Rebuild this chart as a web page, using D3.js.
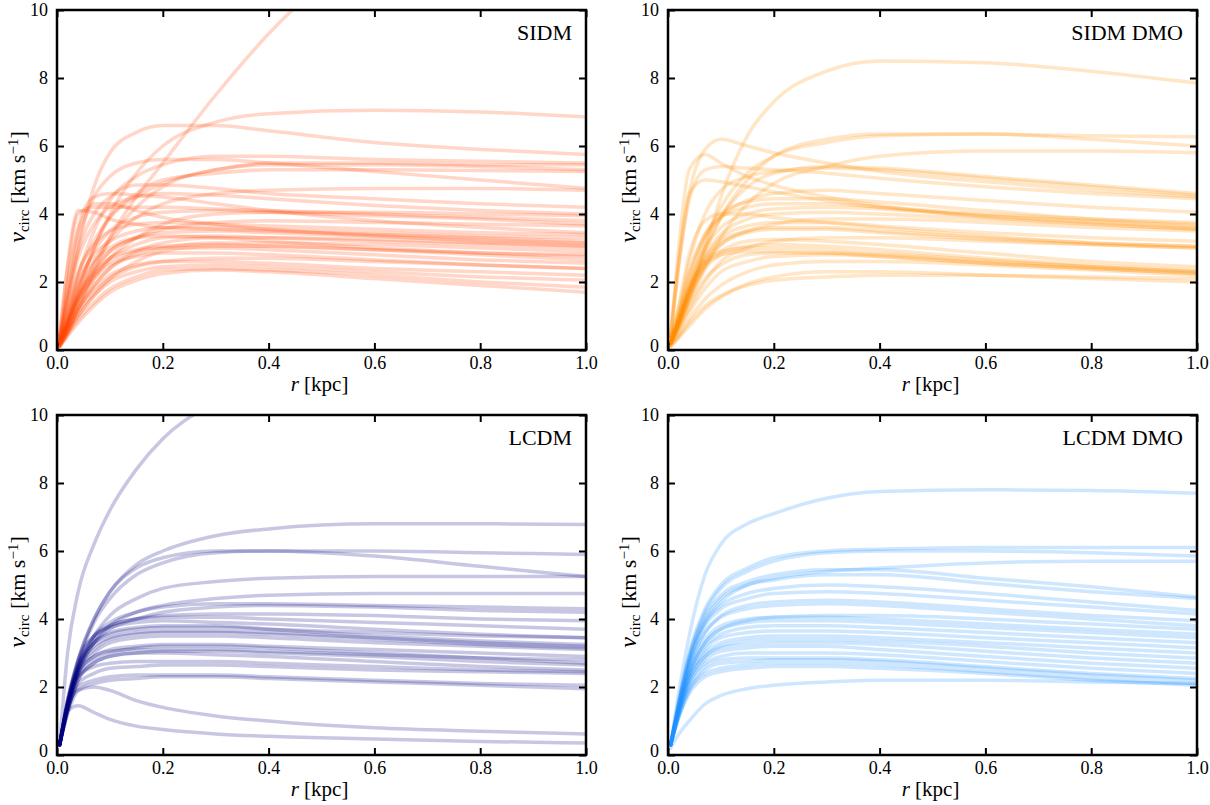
<!DOCTYPE html>
<html>
<head>
<meta charset="utf-8">
<title>vcirc profiles</title>
<style>
  body { margin: 0; background: #fff; }
  svg text { font-family: "Liberation Serif", "DejaVu Serif", serif; fill: #000; }
</style>
</head>
<body>
<svg id="chart" width="1210" height="805"></svg>
<script src="https://cdn.jsdelivr.net/npm/d3@7"></script>
<script>
// radii (kpc) at which every curve is sampled
var rGrid = [0.005, 0.02, 0.04, 0.07, 0.1, 0.15, 0.2, 0.3, 0.4, 0.6, 0.8, 1.0];

var xTicks = [0, 0.2, 0.4, 0.6, 0.8, 1.0];
var yTicks = [0, 2, 4, 6, 8, 10];

var panelTitles = ["SIDM", "SIDM DMO", "LCDM", "LCDM DMO"];
var panelColors = ["#ff4500", "#ff8c00", "#000080", "#1e90ff"];

// v_circ (km/s), one row per halo
var sidmCurves = [
  [0.1, 0.5, 1.2, 2.3, 3.3, 4.5, 5.5, 7.5, 9.3, 12.0, 14.0, 15.5],
  [0.3, 1.5, 3.0, 4.8, 5.8, 6.4, 6.6, 6.6, 6.45, 6.1, 5.9, 5.75],
  [0.2, 0.8, 1.7, 3.0, 4.0, 5.2, 6.0, 6.7, 6.95, 7.05, 7.0, 6.85],
  [0.2, 1.0, 2.2, 3.5, 4.4, 5.1, 5.45, 5.7, 5.7, 5.6, 5.55, 5.5],
  [0.2, 0.8, 1.8, 3.0, 3.9, 4.6, 5.0, 5.2, 5.3, 5.3, 5.28, 5.25],
  [0.3, 1.6, 3.2, 4.5, 5.1, 5.5, 5.6, 5.6, 5.5, 5.25, 5.0, 4.76],
  [0.3, 1.5, 2.9, 4.0, 4.5, 4.85, 4.85, 4.75, 4.6, 4.45, 4.3, 4.2],
  [0.4, 2.5, 4.1, 4.05, 3.85, 3.7, 3.6, 3.55, 3.5, 3.4, 3.3, 3.2],
  [0.4, 2.4, 4.0, 4.2, 4.2, 4.2, 4.2, 4.15, 4.1, 4.0, 3.9, 3.8],
  [0.4, 2.0, 3.6, 4.5, 4.6, 4.55, 4.5, 4.3, 4.1, 3.8, 3.6, 3.45],
  [0.2, 0.7, 1.5, 2.5, 3.2, 3.9, 4.3, 4.6, 4.7, 4.75, 4.75, 4.7],
  [0.3, 1.4, 2.7, 3.7, 4.2, 4.5, 4.6, 4.55, 4.45, 4.25, 4.1, 4.0],
  [0.2, 0.9, 1.9, 2.9, 3.5, 3.9, 4.05, 4.1, 4.05, 3.95, 3.85, 3.7],
  [0.2, 0.8, 1.6, 2.4, 2.9, 3.3, 3.45, 3.5, 3.45, 3.35, 3.25, 3.15],
  [0.2, 0.7, 1.4, 2.2, 2.7, 3.1, 3.3, 3.35, 3.3, 3.2, 3.1, 3.0],
  [0.15, 0.6, 1.2, 1.9, 2.4, 2.9, 3.15, 3.3, 3.3, 3.25, 3.15, 3.05],
  [0.2, 0.9, 1.8, 2.6, 3.0, 3.3, 3.35, 3.3, 3.2, 3.0, 2.85, 2.75],
  [0.15, 0.6, 1.2, 1.8, 2.2, 2.5, 2.6, 2.6, 2.55, 2.4, 2.3, 2.2],
  [0.15, 0.5, 1.0, 1.6, 2.0, 2.3, 2.45, 2.5, 2.45, 2.3, 2.15, 2.05],
  [0.1, 0.45, 0.9, 1.4, 1.8, 2.15, 2.35, 2.4, 2.35, 2.2, 2.0, 1.85],
  [0.1, 0.4, 0.8, 1.3, 1.7, 2.05, 2.25, 2.35, 2.3, 2.1, 1.9, 1.7],
  [0.2, 0.8, 1.5, 2.2, 2.6, 2.9, 3.0, 3.0, 2.95, 2.8, 2.65, 2.55],
  [0.2, 0.7, 1.4, 2.1, 2.5, 2.75, 2.85, 2.85, 2.8, 2.65, 2.5, 2.4],
  [0.2, 1.0, 2.0, 2.8, 3.2, 3.5, 3.6, 3.6, 3.55, 3.45, 3.35, 3.3],
  [0.25, 1.2, 2.3, 3.1, 3.5, 3.7, 3.75, 3.7, 3.65, 3.55, 3.45, 3.4],
  [0.15, 0.6, 1.2, 1.9, 2.4, 2.8, 3.0, 3.15, 3.15, 3.1, 3.0, 2.9],
  [0.15, 0.55, 1.1, 1.7, 2.1, 2.45, 2.6, 2.7, 2.7, 2.6, 2.5, 2.4],
  [0.2, 0.8, 1.6, 2.3, 2.7, 2.95, 3.05, 3.1, 3.05, 2.95, 2.85, 2.8],
  [0.3, 1.8, 3.5, 4.3, 4.3, 4.1, 3.9, 3.7, 3.55, 3.35, 3.2, 3.1],
  [0.15, 0.6, 1.3, 2.1, 2.7, 3.3, 3.7, 4.0, 4.05, 4.05, 4.0, 3.95],
  [0.2, 0.7, 1.5, 2.3, 2.9, 3.3, 3.55, 3.75, 3.8, 3.75, 3.7, 3.65],
  [0.1, 0.5, 1.0, 1.6, 2.1, 2.6, 2.9, 3.05, 3.05, 2.95, 2.8, 2.65],
  [0.2, 1.1, 2.2, 3.2, 3.9, 4.5, 4.9, 5.3, 5.5, 5.5, 5.45, 5.45],
  [0.2, 0.8, 1.6, 2.6, 3.3, 4.2, 4.8, 5.3, 5.45, 5.45, 5.4, 5.3]
];

var sidmDmoCurves = [
  [0.2, 0.7, 1.5, 3.0, 4.5, 6.3, 7.3, 8.2, 8.5, 8.45, 8.2, 7.85],
  [0.4, 2.5, 4.6, 5.9, 6.2, 6.0, 5.8, 5.5, 5.25, 4.95, 4.7, 4.5],
  [0.4, 3.0, 5.3, 5.75, 5.5, 5.1, 4.85, 4.5, 4.25, 3.9, 3.7, 3.55],
  [0.4, 2.4, 4.4, 5.3, 5.4, 5.35, 5.3, 5.2, 5.05, 4.8, 4.6, 4.45],
  [0.4, 2.6, 4.6, 5.0, 4.95, 4.8, 4.65, 4.4, 4.2, 3.95, 3.75, 3.6],
  [0.2, 0.8, 1.7, 2.9, 3.9, 5.0, 5.7, 6.2, 6.35, 6.35, 6.3, 6.27],
  [0.2, 0.7, 1.4, 2.4, 3.3, 4.3, 4.9, 5.4, 5.7, 5.85, 5.85, 5.8],
  [0.2, 0.9, 1.9, 3.2, 4.2, 5.2, 5.7, 6.1, 6.3, 6.35, 6.2, 6.0],
  [0.3, 1.2, 2.6, 4.0, 4.7, 5.1, 5.25, 5.35, 5.3, 5.05, 4.8, 4.55],
  [0.25, 1.0, 2.2, 3.4, 4.0, 4.35, 4.45, 4.45, 4.35, 4.1, 3.85, 3.7],
  [0.2, 0.9, 1.9, 3.0, 3.6, 4.0, 4.15, 4.2, 4.15, 3.95, 3.8, 3.65],
  [0.2, 0.8, 1.7, 2.8, 3.4, 3.85, 4.0, 4.05, 4.0, 3.85, 3.7, 3.55],
  [0.25, 1.1, 2.3, 3.4, 3.9, 4.2, 4.3, 4.3, 4.2, 4.0, 3.85, 3.75],
  [0.2, 0.8, 1.6, 2.6, 3.1, 3.45, 3.55, 3.55, 3.45, 3.25, 3.1, 3.0],
  [0.2, 0.9, 1.8, 2.7, 3.2, 3.5, 3.6, 3.6, 3.5, 3.3, 3.15, 3.05],
  [0.2, 0.8, 1.6, 2.5, 2.9, 3.2, 3.25, 3.2, 3.1, 2.85, 2.6, 2.45],
  [0.2, 0.7, 1.5, 2.4, 2.8, 3.05, 3.1, 3.05, 2.95, 2.7, 2.5, 2.35],
  [0.2, 0.9, 1.8, 2.6, 2.9, 3.0, 3.0, 2.95, 2.85, 2.65, 2.45, 2.3],
  [0.2, 0.8, 1.7, 2.5, 2.8, 2.9, 2.9, 2.85, 2.75, 2.55, 2.4, 2.25],
  [0.15, 0.6, 1.3, 2.1, 2.5, 2.8, 2.85, 2.85, 2.8, 2.6, 2.45, 2.3],
  [0.15, 0.5, 1.1, 1.8, 2.3, 2.6, 2.75, 2.8, 2.75, 2.55, 2.4, 2.25],
  [0.15, 0.4, 0.8, 1.3, 1.6, 1.9, 2.05, 2.15, 2.2, 2.2, 2.15, 2.1],
  [0.1, 0.35, 0.7, 1.2, 1.55, 1.95, 2.15, 2.3, 2.3, 2.2, 2.1, 2.0],
  [0.1, 0.4, 0.9, 1.5, 1.9, 2.3, 2.5, 2.6, 2.6, 2.5, 2.35, 2.2],
  [0.2, 0.8, 1.7, 2.7, 3.3, 3.65, 3.75, 3.75, 3.65, 3.45, 3.3, 3.2],
  [0.3, 1.3, 2.8, 3.8, 4.0, 4.0, 3.9, 3.75, 3.6, 3.35, 3.15, 3.05],
  [0.2, 0.8, 1.8, 3.0, 3.9, 4.8, 5.2, 5.4, 5.35, 5.1, 4.85, 4.6],
  [0.2, 1.0, 2.1, 3.3, 3.9, 4.4, 4.6, 4.7, 4.6, 4.4, 4.2, 4.05],
  [0.2, 0.7, 1.5, 2.5, 3.1, 3.5, 3.7, 3.85, 3.85, 3.75, 3.6, 3.5],
  [0.2, 0.6, 1.2, 2.0, 2.6, 3.0, 3.2, 3.3, 3.3, 3.2, 3.1, 3.0]
];

var lcdmCurves = [
  [0.3, 3.0, 4.8, 6.2, 7.2, 8.4, 9.3, 10.4, 11.2, 12.3, 13.0, 13.5],
  [0.3, 1.6, 2.8, 4.0, 4.8, 5.6, 6.0, 6.45, 6.65, 6.8, 6.8, 6.78],
  [0.3, 1.5, 2.7, 3.9, 4.6, 5.3, 5.65, 5.95, 6.0, 6.0, 5.95, 5.9],
  [0.3, 1.5, 2.8, 4.0, 4.8, 5.5, 5.8, 6.0, 6.0, 5.85, 5.55, 5.25],
  [0.3, 1.4, 2.5, 3.5, 4.1, 4.6, 4.9, 5.1, 5.2, 5.25, 5.25, 5.25],
  [0.3, 1.3, 2.4, 3.3, 3.8, 4.2, 4.4, 4.6, 4.7, 4.75, 4.75, 4.75],
  [0.3, 1.5, 2.6, 3.5, 3.9, 4.2, 4.35, 4.45, 4.45, 4.4, 4.35, 4.3],
  [0.3, 1.4, 2.5, 3.3, 3.7, 4.0, 4.2, 4.35, 4.4, 4.35, 4.25, 4.2],
  [0.3, 1.5, 2.6, 3.4, 3.8, 4.0, 4.1, 4.15, 4.15, 4.1, 4.0, 3.95],
  [0.3, 1.6, 2.7, 3.5, 3.8, 4.0, 4.05, 4.05, 4.0, 3.9, 3.8, 3.7],
  [0.3, 1.6, 2.6, 3.3, 3.55, 3.7, 3.75, 3.75, 3.7, 3.6, 3.5, 3.45],
  [0.3, 1.5, 2.5, 3.2, 3.45, 3.6, 3.65, 3.65, 3.6, 3.45, 3.3, 3.2],
  [0.3, 1.4, 2.4, 3.0, 3.3, 3.45, 3.5, 3.5, 3.45, 3.3, 3.2, 3.1],
  [0.3, 1.5, 2.4, 2.9, 3.1, 3.2, 3.25, 3.25, 3.2, 3.1, 3.0, 2.9],
  [0.3, 1.5, 2.4, 2.9, 3.05, 3.1, 3.1, 3.1, 3.05, 2.95, 2.85, 2.8],
  [0.3, 1.3, 2.2, 2.7, 2.9, 3.0, 3.05, 3.05, 3.0, 2.9, 2.75, 2.65],
  [0.3, 1.4, 2.3, 2.6, 2.7, 2.75, 2.75, 2.75, 2.7, 2.6, 2.5, 2.45],
  [0.3, 1.3, 2.1, 2.4, 2.55, 2.6, 2.65, 2.65, 2.6, 2.5, 2.45, 2.4],
  [0.3, 1.3, 2.0, 2.2, 2.3, 2.35, 2.35, 2.35, 2.3, 2.2, 2.1, 2.05],
  [0.3, 1.2, 1.9, 2.1, 2.2, 2.25, 2.3, 2.3, 2.25, 2.15, 2.05, 1.95],
  [0.3, 1.6, 2.8, 3.5, 3.75, 3.9, 3.95, 3.9, 3.85, 3.7, 3.55, 3.45],
  [0.3, 1.5, 2.6, 3.3, 3.6, 3.75, 3.8, 3.8, 3.7, 3.5, 3.35, 3.25],
  [0.3, 1.4, 2.3, 2.8, 3.0, 3.15, 3.2, 3.2, 3.15, 3.0, 2.85, 2.7],
  [0.3, 1.3, 2.2, 2.7, 2.9, 3.0, 3.0, 2.95, 2.9, 2.75, 2.6, 2.5],
  [0.3, 1.5, 2.5, 3.1, 3.4, 3.55, 3.6, 3.6, 3.55, 3.4, 3.25, 3.15],
  [0.3, 1.4, 1.9, 2.0, 1.9, 1.6, 1.4, 1.15, 1.0, 0.8, 0.7, 0.62],
  [0.3, 1.3, 1.45, 1.25, 1.05, 0.85, 0.75, 0.62, 0.55, 0.47, 0.4, 0.35]
];

var lcdmDmoCurves = [
  [0.3, 1.8, 3.5, 5.3, 6.2, 6.8, 7.1, 7.55, 7.75, 7.8, 7.78, 7.7],
  [0.3, 1.6, 3.0, 4.3, 5.0, 5.5, 5.8, 6.0, 6.05, 6.1, 6.1, 6.1],
  [0.3, 1.5, 2.9, 4.2, 4.9, 5.4, 5.7, 5.95, 6.0, 6.0, 5.95, 5.85],
  [0.3, 1.4, 2.7, 3.9, 4.5, 5.0, 5.2, 5.4, 5.5, 5.65, 5.7, 5.7],
  [0.3, 1.5, 2.9, 4.1, 4.7, 5.1, 5.3, 5.45, 5.45, 5.2, 4.95, 4.65],
  [0.3, 1.5, 2.8, 4.0, 4.6, 5.0, 5.15, 5.3, 5.3, 5.05, 4.8, 4.6],
  [0.3, 1.5, 2.8, 3.9, 4.4, 4.75, 4.9, 5.0, 4.95, 4.75, 4.5, 4.25],
  [0.3, 1.4, 2.7, 3.8, 4.3, 4.6, 4.75, 4.8, 4.75, 4.55, 4.35, 4.15],
  [0.3, 1.4, 2.6, 3.6, 4.1, 4.4, 4.5, 4.55, 4.5, 4.3, 4.1, 3.95],
  [0.3, 1.4, 2.6, 3.6, 4.05, 4.3, 4.4, 4.45, 4.4, 4.2, 4.0, 3.8],
  [0.3, 1.4, 2.5, 3.4, 3.8, 4.0, 4.05, 4.05, 4.0, 3.85, 3.7, 3.55],
  [0.3, 1.3, 2.4, 3.3, 3.7, 3.9, 3.95, 3.95, 3.9, 3.75, 3.6, 3.45],
  [0.3, 1.3, 2.4, 3.2, 3.55, 3.75, 3.8, 3.8, 3.75, 3.6, 3.45, 3.3],
  [0.3, 1.3, 2.3, 3.1, 3.45, 3.6, 3.65, 3.65, 3.6, 3.45, 3.3, 3.15],
  [0.3, 1.3, 2.3, 3.0, 3.3, 3.45, 3.5, 3.5, 3.45, 3.3, 3.15, 3.0],
  [0.3, 1.2, 2.2, 2.9, 3.15, 3.25, 3.3, 3.3, 3.25, 3.05, 2.85, 2.7],
  [0.3, 1.2, 2.1, 2.8, 3.05, 3.15, 3.2, 3.2, 3.1, 2.9, 2.7, 2.55],
  [0.3, 1.2, 2.1, 2.7, 2.9, 3.0, 3.0, 3.0, 2.95, 2.75, 2.55, 2.4],
  [0.3, 1.2, 2.0, 2.6, 2.8, 2.85, 2.85, 2.85, 2.8, 2.6, 2.4, 2.25],
  [0.3, 1.1, 1.9, 2.5, 2.7, 2.75, 2.8, 2.8, 2.75, 2.55, 2.35, 2.2],
  [0.3, 1.1, 1.9, 2.4, 2.55, 2.65, 2.7, 2.7, 2.65, 2.45, 2.25, 2.1],
  [0.3, 1.1, 1.8, 2.3, 2.45, 2.55, 2.6, 2.6, 2.55, 2.4, 2.2, 2.05],
  [0.2, 0.6, 1.0, 1.5, 1.75, 1.95, 2.05, 2.15, 2.2, 2.2, 2.15, 2.1],
  [0.3, 1.3, 2.4, 3.3, 3.7, 3.95, 4.05, 4.1, 4.1, 4.0, 3.85, 3.7],
  [0.3, 1.2, 2.2, 2.9, 3.2, 3.35, 3.4, 3.4, 3.35, 3.2, 3.0, 2.85]
];

var allCurves = [sidmCurves, sidmDmoCurves, lcdmCurves, lcdmDmoCurves];

var svg = d3.select("#chart");
var pw = 529, ph = 340;
var lefts = [57, 668], tops = [10, 415];

allCurves.forEach(function(curves, k) {
  var col = k % 2, row = Math.floor(k / 2);
  var x = d3.scaleLinear().domain([0, 1]).range([0, pw]);
  var y = d3.scaleLinear().domain([0, 10]).range([ph, 0]);

  var g = svg.append("g")
    .attr("transform", "translate(" + lefts[col] + "," + tops[row] + ")");

  g.append("clipPath").attr("id", "clip" + k)
    .append("rect").attr("width", pw).attr("height", ph);

  var line = d3.line()
    .x(function(d, i) { return x(rGrid[i]); })
    .y(function(d) { return y(d); })
    .curve(d3.curveMonotoneX);

  g.append("g").attr("clip-path", "url(#clip" + k + ")")
    .selectAll("path")
    .data(curves)
    .join("path")
    .attr("d", line)
    .attr("fill", "none")
    .attr("stroke", panelColors[k])
    .attr("stroke-opacity", 0.22)
    .attr("stroke-width", 3.5)
    .attr("stroke-linecap", "round");

  // axes, ticks pointing inward on all four sides
  var bottom = g.append("g").attr("transform", "translate(0," + ph + ")")
    .call(d3.axisBottom(x).tickValues(xTicks).tickSize(-7).tickPadding(6)
      .tickFormat(d3.format(".1f")));
  var left = g.append("g")
    .call(d3.axisLeft(y).tickValues(yTicks).tickSize(-7).tickPadding(9)
      .tickFormat(d3.format("d")));
  var top = g.append("g")
    .call(d3.axisTop(x).tickValues(xTicks).tickSize(-7).tickFormat(""));
  var right = g.append("g").attr("transform", "translate(" + pw + ",0)")
    .call(d3.axisRight(y).tickValues(yTicks).tickSize(-7).tickFormat(""));

  [bottom, left, top, right].forEach(function(a) {
    a.select(".domain").remove();
    a.selectAll(".tick line").attr("stroke", "#000").attr("stroke-width", 2);
    a.selectAll(".tick text").style("font-size", "18px")
      .style("font-family", "'Liberation Serif', serif");
  });
  // the "0" on the y axis sits a touch higher so it clears the "0.0" below
  left.selectAll(".tick text").filter(function(d) { return d === 0; })
    .attr("dy", "0.1em");

  g.append("rect")
    .attr("width", pw).attr("height", ph)
    .attr("fill", "none").attr("stroke", "#000").attr("stroke-width", 2.5);

  g.append("text")
    .attr("x", pw - 14).attr("y", 30)
    .attr("text-anchor", "end")
    .style("font-size", "22px")
    .text(panelTitles[k]);

  // x label
  var xl = g.append("text")
    .attr("x", pw / 2 - 2).attr("y", ph + 41)
    .attr("text-anchor", "middle")
    .style("font-size", "21px");
  xl.append("tspan").style("font-style", "italic").text("r");
  xl.append("tspan").text(" [kpc]");

  // y label
  var yl = g.append("text")
    .attr("transform", "translate(" + (-32) + "," + 177 + ") rotate(-90)")
    .attr("text-anchor", "middle")
    .style("font-size", "22px");
  yl.append("tspan").style("font-style", "italic").style("font-size", "24px").text("v");
  yl.append("tspan").attr("dy", 4).style("font-size", "15px").text("circ");
  yl.append("tspan").attr("dy", -4).text(" [km s");
  yl.append("tspan").attr("dy", -7).style("font-size", "15px").text("\u22121");
  yl.append("tspan").attr("dy", 7).text("]");
});
</script>
</body>
</html>
